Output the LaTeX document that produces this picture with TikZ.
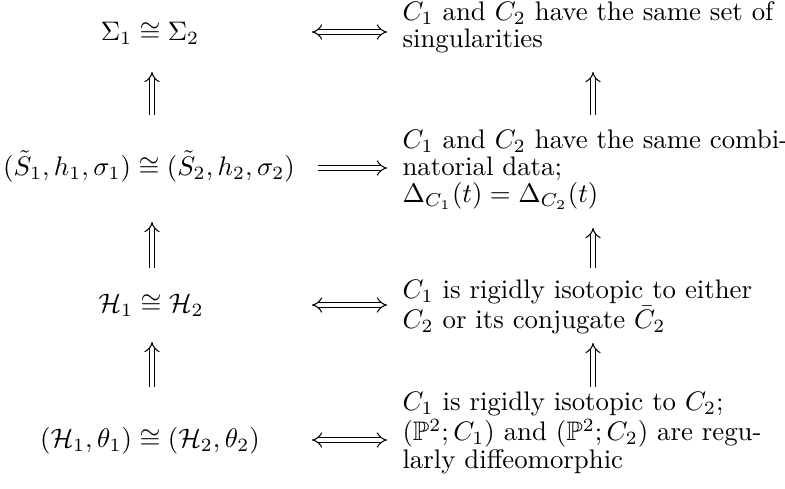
\documentclass[tikz,border=0pt]{standalone}
\usepackage{amsmath,amssymb}
\usetikzlibrary{arrows.meta}
\begin{document}
\begin{tikzpicture}[x=0.3731pt,y=-0.3731pt,
  lft/.style={anchor=base, inner sep=0pt, font=\fontsize{10pt}{12pt}\selectfont},
  rgt/.style={anchor=base west, inner sep=0pt, align=left, font=\fontsize{10pt}{10.1pt}\selectfont},
  dimp/.style={double, double distance=1.6pt, line width=0.4pt, -{Implies}},
  dequiv/.style={double, double distance=1.6pt, line width=0.4pt, {Implies}-{Implies}}
]
\useasboundingbox (0,0) rectangle (785,488);
% left column
\node[lft] (s1) at (150,40) {$\Sigma_1\cong\Sigma_2$};
\node[lft] (s2) at (149,175) {$(\tilde S_1,h_1,\sigma_1)\cong(\tilde S_2,h_2,\sigma_2)$};
\node[lft] (s3) at (151,312) {$\mathcal{H}_1\cong\mathcal{H}_2$};
\node[lft] (s4) at (150,447) {$(\mathcal{H}_1,\theta_1)\cong(\mathcal{H}_2,\theta_2)$};
% right column (base = baseline of the last line)
\node[rgt] (r1) at (402,47.5) {$C_1$ and $C_2$ have the same set of\\singularities};
\node[rgt] (r2) at (402,202.5) {$C_1$ and $C_2$ have the same combi-\\natorial data;\\$\Delta_{C_1}(t)=\Delta_{C_2}(t)$};
\node[rgt] (r3) at (402,328.5) {$C_1$ is rigidly isotopic to either\\$C_2$ or its conjugate $\bar C_2$};
\node[rgt] (r4) at (402,468) {$C_1$ is rigidly isotopic to $C_2$;\\$(\mathbb{P}^2;C_1)$ and $(\mathbb{P}^2;C_2)$ are regu-\\larly diffeomorphic};
% horizontal arrow ends
\coordinate (h1a) at (312,32);  \coordinate (h1b) at (387,32);
\coordinate (h2a) at (318,168); \coordinate (h2b) at (387,168);
\coordinate (h3a) at (312,305); \coordinate (h3b) at (387,305);
\coordinate (h4a) at (312,440); \coordinate (h4b) at (387,440);
\draw[dequiv] (h1a) -- (h1b);
\draw[dimp]   (h2a) -- (h2b);
\draw[dequiv] (h3a) -- (h3b);
\draw[dequiv] (h4a) -- (h4b);
% vertical arrow ends
\coordinate (lv1a) at (152,115); \coordinate (lv1b) at (152,72);
\coordinate (lv2a) at (152,268); \coordinate (lv2b) at (152,222);
\coordinate (lv3a) at (152,387); \coordinate (lv3b) at (152,342);
\coordinate (rv1a) at (593,115); \coordinate (rv1b) at (593,72);
\coordinate (rv2a) at (593,268); \coordinate (rv2b) at (593,228);
\coordinate (rv3a) at (593,387); \coordinate (rv3b) at (593,343);
\draw[dimp] (lv1a) -- (lv1b);
\draw[dimp] (lv2a) -- (lv2b);
\draw[dimp] (lv3a) -- (lv3b);
\draw[dimp] (rv1a) -- (rv1b);
\draw[dimp] (rv2a) -- (rv2b);
\draw[dimp] (rv3a) -- (rv3b);
\end{tikzpicture}
\end{document}
